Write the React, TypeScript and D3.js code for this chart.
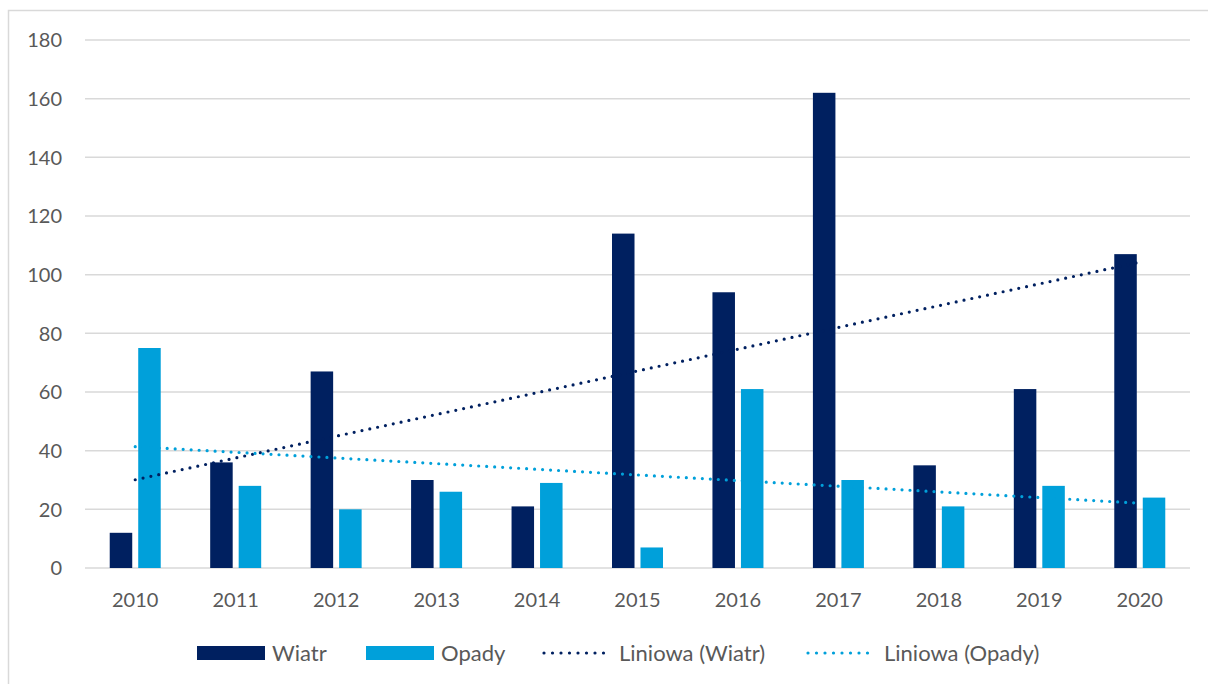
import React from "react";
import * as d3 from "d3";

const years = ["2010", "2011", "2012", "2013", "2014", "2015", "2016", "2017", "2018", "2019", "2020"];
const wiatr = [12, 36, 67, 30, 21, 114, 94, 162, 35, 61, 107];
const opady = [75, 28, 20, 26, 29, 7, 61, 30, 21, 28, 24];
const yTicks = [0, 20, 40, 60, 80, 100, 120, 140, 160, 180];
const seriesNames = ["Wiatr", "Opady"];
const trendNames = ["Liniowa (Wiatr)", "Liniowa (Opady)"];

const NAVY = "#002060";
const BLUE = "#00A0DA";
const TEXT = "#595959";
const GRID = "#d9d9d9";
const FONT = "Lato, 'Liberation Sans', sans-serif";

function linreg(vals: number[]) {
  const n = vals.length;
  const xs = vals.map((_, i) => i);
  const mx = d3.mean(xs)!;
  const my = d3.mean(vals)!;
  let sxy = 0, sxx = 0;
  xs.forEach((x, i) => { sxy += (x - mx) * (vals[i] - my); sxx += (x - mx) * (x - mx); });
  const b = sxy / sxx;
  const a = my - b * mx;
  return [a, a + b * (n - 1)];
}

export default function App() {
  const W = 1208, H = 684;
  const left = 85, right = 1190, top = 40, bottom = 568;
  const x = d3.scaleBand<string>().domain(years).range([left, right]).padding(0);
  const y = d3.scaleLinear().domain([0, 180]).range([bottom, top]);
  const inner = d3.scaleBand<string>().domain(seriesNames).range([-25.5, 25.5]).paddingInner(0.21);
  const data = [wiatr, opady];
  const colors = [NAVY, BLUE];
  const trends = data.map(linreg);
  const cx = (yr: string) => x(yr)! + x.bandwidth() / 2;
  const line = d3.line<[number, number]>().x(d => d[0]).y(d => d[1]);

  const legendItems = [
    { kind: "rect", label: seriesNames[0], color: NAVY, x0: 197, tx: 272 },
    { kind: "rect", label: seriesNames[1], color: BLUE, x0: 366, tx: 441 },
    { kind: "line", label: trendNames[0], color: NAVY, x0: 544, tx: 619 },
    { kind: "line", label: trendNames[1], color: BLUE, x0: 808, tx: 884 },
  ];

  return (
    <svg width={W} height={H} style={{ position: "absolute", left: 0, top: 0, background: "#fff" }} fontFamily={FONT}>
      <rect x={8.5} y={10.5} width={1300} height={800} fill="#fff" stroke={GRID} strokeWidth={1.5} />
      {yTicks.map(t => (
        <g key={t}>
          <line x1={left} x2={right} y1={y(t)} y2={y(t)} stroke={GRID} strokeWidth={1.5} />
          <text x={62} y={y(t)} dy="0.36em" textAnchor="end" fontSize={20} fill={TEXT}>{t}</text>
        </g>
      ))}
      {years.map((yr, i) => (
        <g key={yr}>
          {data.map((s, si) => (
            <rect key={si}
              x={cx(yr) + inner(seriesNames[si])!}
              y={y(s[i])}
              width={inner.bandwidth()}
              height={y(0) - y(s[i])}
              fill={colors[si]} />
          ))}
          <text x={cx(yr)} y={607} textAnchor="middle" fontSize={20} fill={TEXT}>{yr}</text>
        </g>
      ))}
      {trends.map((tr, si) => (
        <path key={si}
          d={line([[cx(years[0]), y(tr[0])], [cx(years[years.length - 1]), y(tr[1])]])!}
          fill="none" stroke={colors[si]} strokeWidth={3.2} strokeLinecap="round" strokeDasharray="0 8" />
      ))}
      {legendItems.map((it, i) => (
        <g key={i}>
          {it.kind === "rect" ? (
            <rect x={it.x0} y={646} width={68} height={14} fill={it.color} />
          ) : (
            <line x1={it.x0} x2={it.x0 + 68} y1={653} y2={653} stroke={it.color} strokeWidth={3.2} strokeLinecap="round" strokeDasharray="0 8.5" />
          )}
          <text x={it.tx} y={653} dy="0.36em" fontSize={22} fill={TEXT}>{it.label}</text>
        </g>
      ))}
    </svg>
  );
}
